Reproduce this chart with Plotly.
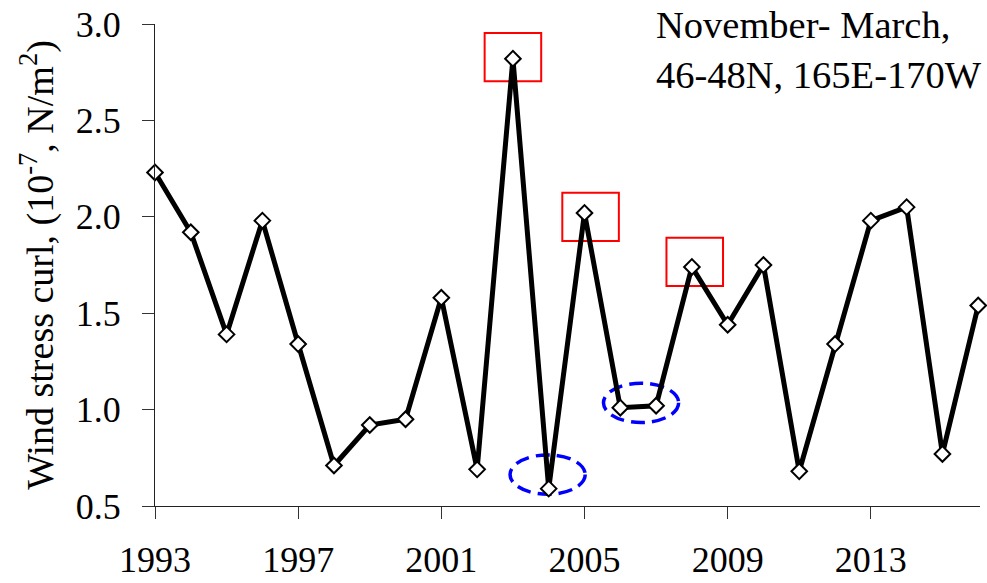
import plotly.graph_objects as go

# ---- data ----
years = list(range(1993, 2017))
curl = [2.23, 1.92, 1.39, 1.98, 1.34, 0.71, 0.92, 0.95, 1.58, 0.69,
        2.82, 0.59, 2.02, 1.01, 1.02, 1.74, 1.44, 1.75, 0.68, 1.34,
        1.98, 2.05, 0.77, 1.54]
x_tick_vals = [1993, 1997, 2001, 2005, 2009, 2013]
x_tick_text = ["1993", "1997", "2001", "2005", "2009", "2013"]
y_tick_vals = [0.5, 1.0, 1.5, 2.0, 2.5, 3.0]
y_tick_text = ["0.5", "1.0", "1.5", "2.0", "2.5", "3.0"]
highlight_peaks = [2003, 2005, 2008]          # red boxes
highlight_lows = [[2004], [2006, 2007]]        # blue dashed ellipses
note_text = "November- March,<br>46-48N, 165E-170W"
y_title = "Wind stress curl, (10<sup>-7</sup>, N/m<sup>2</sup>)"

# ---- styling (offsets of the highlight marks relative to the points) ----
FONT = "Liberation Serif"
box_offsets = [(0.0, 0.008), (0.17, -0.02), (0.08, 0.026)]
box_half_w, box_half_h = 0.79, 0.125
ell_offsets = [(-0.03, 0.073), (0.08, 0.02)]
ell_half_w, ell_half_h = 1.05, 0.102

val = dict(zip(years, curl))

fig = go.Figure()
fig.add_trace(go.Scatter(
    x=years, y=curl, mode="lines+markers",
    line=dict(color="black", width=5),
    marker=dict(symbol="diamond", size=12, color="white",
                line=dict(color="black", width=2)),
    cliponaxis=False, showlegend=False, hoverinfo="skip",
))

for yr, (dx, dy) in zip(highlight_peaks, box_offsets):
    cx, cy = yr + dx, val[yr] + dy
    fig.add_shape(type="rect", xref="x", yref="y", layer="below",
                  x0=cx - box_half_w, x1=cx + box_half_w,
                  y0=cy - box_half_h, y1=cy + box_half_h,
                  line=dict(color="red", width=2), fillcolor="rgba(0,0,0,0)")

for grp, (dx, dy) in zip(highlight_lows, ell_offsets):
    cx = sum(grp) / len(grp) + dx
    cy = sum(val[g] for g in grp) / len(grp) + dy
    fig.add_shape(type="circle", xref="x", yref="y", layer="below",
                  x0=cx - ell_half_w, x1=cx + ell_half_w,
                  y0=cy - ell_half_h, y1=cy + ell_half_h,
                  line=dict(color="#0000ff", width=3.5, dash="14px,7px"))

fig.add_annotation(text=note_text, xref="paper", yref="paper",
                   x=0.6045, y=1.045, xanchor="left", yanchor="top",
                   align="left", showarrow=False,
                   font=dict(family=FONT, size=38.5, color="black"))

fig.update_layout(
    width=987, height=583,
    margin=dict(l=155, r=7, t=24, b=77),
    paper_bgcolor="white", plot_bgcolor="white",
    font=dict(family=FONT, size=36, color="black"),
    xaxis=dict(range=[1993, 2016.05], tickvals=x_tick_vals, ticktext=x_tick_text,
               showgrid=False, zeroline=False, showline=True, linecolor="#222",
               linewidth=1, ticks="outside", ticklen=12, tickcolor="#333",
               automargin=False, ticklabelstandoff=10,
               tickfont=dict(family=FONT, size=36, color="black")),
    yaxis=dict(range=[0.5, 3.0], tickvals=y_tick_vals, ticktext=y_tick_text,
               showgrid=False, zeroline=False, showline=True, linecolor="#222",
               linewidth=1, ticks="outside", ticklen=12, tickcolor="#333",
               automargin=False, ticklabelstandoff=14,
               tickfont=dict(family=FONT, size=36, color="black"),
               title=dict(text=y_title, standoff=10,
                          font=dict(family=FONT, size=38, color="black"))),
)

fig.write_html("out.html", config={"displayModeBar": False},
               post_script="document.body.style.margin='0';document.body.style.padding='0';")
